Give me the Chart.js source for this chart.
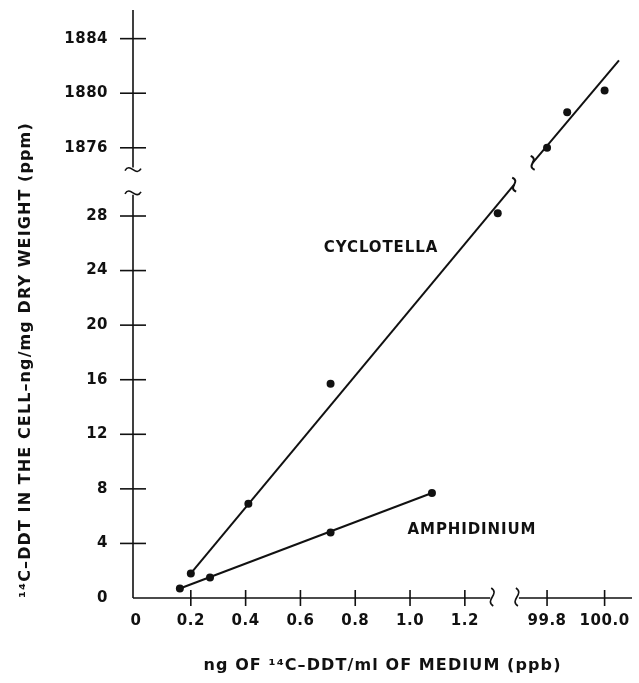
<!DOCTYPE html>
<html>
<head>
<meta charset="utf-8">
<script src="https://cdn.jsdelivr.net/npm/chart.js@4/dist/chart.umd.min.js"></script>
<style>
  html, body { margin: 0; padding: 0; background: #fff; }
  canvas { display: block; }
</style>
</head>
<body>
<canvas id="c" width="639" height="683"></canvas>
<script>
// ---- data (real units) ----
const cycloX = [0.20, 0.41, 0.71, 1.32, 99.80, 99.87, 100.00];
const cycloY = [1.8, 6.9, 15.7, 28.2, 1876.0, 1878.6, 1880.2];
const amphiX = [0.16, 0.27, 0.71, 1.08];
const amphiY = [0.7, 1.5, 4.8, 7.7];
// fitted lines (endpoints)
const cycloFitLowX = [0.20, 1.38];
const cycloFitLowY = [1.8, 30.3];
const cycloFitHighX = [99.75, 100.05];
const cycloFitHighY = [1874.9, 1882.4];
const amphiFitX = [0.16, 1.08];
const amphiFitY = [0.7, 7.7];
// tick labels
const xTickVals = [0, 0.2, 0.4, 0.6, 0.8, 1.0, 1.2, 99.8, 100.0];
const xTickLabels = ['0', '0.2', '0.4', '0.6', '0.8', '1.0', '1.2', '99.8', '100.0'];
const yTickVals = [0, 4, 8, 12, 16, 20, 24, 28, 1876, 1880, 1884];
const yTickLabels = ['0', '4', '8', '12', '16', '20', '24', '28', '1876', '1880', '1884'];
const seriesNames = ['CYCLOTELLA', 'AMPHIDINIUM'];

// broken-axis transforms
const toX = v => v > 50 ? 1.5 + (v - 99.8) * 1.05 : v;
const toY = v => v > 100 ? v - 1843 : v;
const pts = (xs, ys) => xs.map((x, i) => ({ x: toX(x), y: toY(ys[i]) }));

const FONT = "'DejaVu Sans', sans-serif";
const INK = '#111';

const axisPlugin = {
  id: 'brokenAxes',
  beforeDraw(chart) {
    chart.ctx.letterSpacing = '0.5px';
  },
  afterDatasetsDraw(chart) {
    const ctx = chart.ctx;
    const xs = chart.scales.x, ys = chart.scales.y;
    const ca = chart.chartArea;
    const X = v => xs.getPixelForValue(toX(v));
    const Y = v => ys.getPixelForValue(toY(v));
    ctx.save();
    ctx.strokeStyle = INK;
    ctx.lineWidth = 1.6;
    ctx.lineCap = 'butt';
    const ax = ca.left, ay = ca.bottom;
    // y axis with break
    const yBreakLo = ys.getPixelForValue(29.7), yBreakHi = ys.getPixelForValue(31.4);
    ctx.beginPath();
    ctx.moveTo(ax, ay); ctx.lineTo(ax, yBreakLo + 2);
    ctx.moveTo(ax, yBreakHi - 2); ctx.lineTo(ax, ca.top);
    ctx.stroke();
    const htilde = (cx, cy) => {
      ctx.beginPath();
      ctx.moveTo(cx - 8, cy + 1);
      ctx.bezierCurveTo(cx - 3, cy - 8, cx + 3, cy + 8, cx + 8, cy - 1);
      ctx.stroke();
    };
    htilde(ax, yBreakHi);
    htilde(ax, yBreakLo);
    // x axis with break
    const xBreakL = xs.getPixelForValue(1.30), xBreakR = xs.getPixelForValue(1.39);
    ctx.beginPath();
    ctx.moveTo(ax, ay); ctx.lineTo(xBreakL - 2, ay);
    ctx.moveTo(xBreakR + 2, ay); ctx.lineTo(ca.right, ay);
    ctx.stroke();
    const vtilde = (cx, cy) => {
      ctx.beginPath();
      ctx.moveTo(cx - 1, cy - 9);
      ctx.bezierCurveTo(cx + 8, cy - 3, cx - 8, cy + 3, cx + 1, cy + 9);
      ctx.stroke();
    };
    vtilde(xBreakL, ay - 1);
    vtilde(xBreakR, ay - 1);
    // tick marks crossing axes
    yTickVals.forEach(v => {
      if (v === 0) return;
      const py = Y(v);
      ctx.beginPath(); ctx.moveTo(ax - 13, py); ctx.lineTo(ax + 13, py); ctx.stroke();
    });
    xTickVals.forEach(v => {
      if (v === 0) return;
      const px = X(v);
      ctx.beginPath(); ctx.moveTo(px, ay - 8); ctx.lineTo(px, ay + 8); ctx.stroke();
    });
    // break marks on the Cyclotella fit line
    const lowEnd = chart.getDatasetMeta(2).data[1];
    const highStart = chart.getDatasetMeta(3).data[0];
    ctx.lineWidth = 2;
    const lineTilde = (cx, cy) => {
      ctx.beginPath();
      ctx.moveTo(cx - 2, cy - 7);
      ctx.bezierCurveTo(cx + 7, cy - 3, cx - 7, cy + 3, cx + 2, cy + 7);
      ctx.stroke();
    };
    lineTilde(lowEnd.x, lowEnd.y);
    lineTilde(highStart.x, highStart.y);
    // series labels
    ctx.fillStyle = INK;
    ctx.font = 'bold 15px ' + FONT;
    ctx.letterSpacing = '0.9px';
    ctx.textAlign = 'center';
    ctx.textBaseline = 'middle';
    ctx.fillText(seriesNames[0], xs.getPixelForValue(0.894), ys.getPixelForValue(25.66));
    ctx.fillText(seriesNames[1], xs.getPixelForValue(1.226), ys.getPixelForValue(4.99));
    ctx.restore();
  }
};

// wider letter spacing for axis titles
const titleSpacing = {
  id: 'titleSpacing',
  beforeDraw(chart) {
    ['x', 'y'].forEach(id => {
      const s = chart.scales[id];
      if (!s._wrappedTitle) {
        const orig = s.drawTitle.bind(s);
        s.drawTitle = function () {
          const prev = chart.ctx.letterSpacing;
          chart.ctx.letterSpacing = '1.1px';
          orig();
          chart.ctx.letterSpacing = prev;
        };
        s._wrappedTitle = true;
      }
    });
  }
};

const lineDs = (data) => ({
  type: 'scatter', data, showLine: true, borderColor: INK, borderWidth: 2,
  pointRadius: 0, pointHoverRadius: 0, fill: false, clip: false
});

new Chart(document.getElementById('c'), {
  type: 'scatter',
  data: {
    datasets: [
      { label: seriesNames[0], data: pts(cycloX, cycloY), pointRadius: 4, pointBackgroundColor: INK, pointBorderColor: INK, pointBorderWidth: 0, clip: false },
      { label: seriesNames[1], data: pts(amphiX, amphiY), pointRadius: 4, pointBackgroundColor: INK, pointBorderColor: INK, pointBorderWidth: 0, clip: false },
      lineDs(pts(cycloFitLowX, cycloFitLowY)),
      lineDs(pts(cycloFitHighX, cycloFitHighY)),
      lineDs(pts(amphiFitX, amphiFitY))
    ]
  },
  options: {
    responsive: false,
    animation: false,
    events: [],
    layout: { padding: { left: 0, right: 7, top: 10, bottom: 0 } },
    plugins: { legend: { display: false }, tooltip: { enabled: false } },
    scales: {
      x: {
        type: 'linear', position: 'bottom', min: -0.011, max: 1.81,
        grid: { display: false, drawTicks: false }, border: { display: false },
        afterBuildTicks: s => { s.ticks = xTickVals.map(v => ({ value: toX(v) })); },
        afterFit: s => { s.height = 85; s.paddingLeft = 0; s.paddingRight = 0; },
        ticks: {
          autoSkip: false, maxRotation: 0, padding: 14, color: INK,
          font: { family: FONT, size: 15, weight: 'bold' },
          callback: (val, i) => xTickLabels[i]
        },
        title: {
          display: true, text: 'ng OF \u00B9\u2074C\u2013DDT/ml OF MEDIUM (ppb)', color: INK,
          font: { family: FONT, size: 16, weight: 'bold' }, padding: { top: 0, bottom: 8 }
        }
      },
      y: {
        type: 'linear', position: 'left', min: 0, max: 43.1,
        grid: { display: false, drawTicks: false }, border: { display: false },
        afterBuildTicks: s => { s.ticks = yTickVals.map(v => ({ value: toY(v) })); },
        afterFit: s => { s.width = 133; s.paddingTop = 0; s.paddingBottom = 0; },
        ticks: {
          autoSkip: false, padding: 25, color: INK,
          font: { family: FONT, size: 15, weight: 'bold' },
          callback: (val, i) => yTickLabels[i]
        },
        title: {
          display: true, align: 'start', text: '\u00B9\u2074C\u2013DDT IN THE CELL\u2013ng/mg DRY WEIGHT (ppm)', color: INK,
          font: { family: FONT, size: 16, weight: 'bold' }, padding: { top: 16, bottom: 0 }
        }
      }
    }
  },
  plugins: [axisPlugin, titleSpacing]
});
</script>
</body>
</html>
